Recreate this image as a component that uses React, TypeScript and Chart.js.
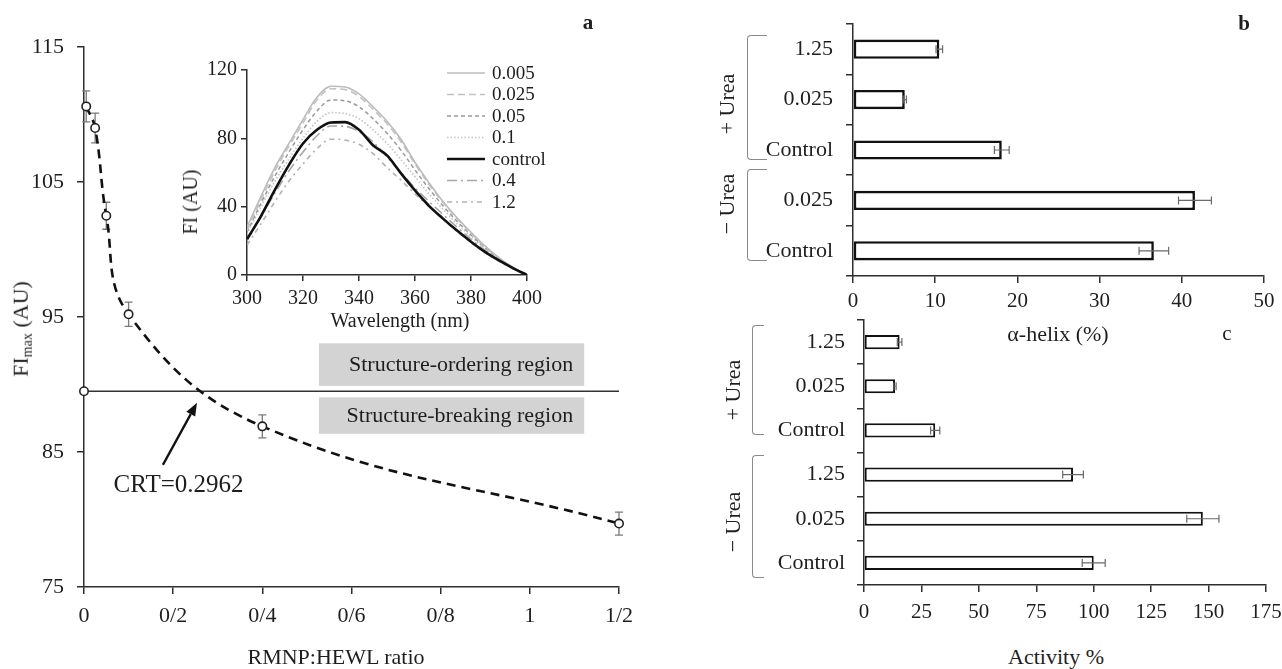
import React, { useEffect, useRef } from "react";
import { Chart, registerables } from "chart.js";

Chart.register(...registerables);

const SERIF = '"Liberation Serif", "Times New Roman", Times, serif';
const TXT = "#1e1e1e";
const AXIS = "#2e2e2e";

// ---------------- Panel a : FImax vs RMNP:HEWL ratio ----------------
const ratioTickValues = [0, 0.2, 0.4, 0.6, 0.8, 1, 1.2];
const ratioTickLabels = ["0", "0/2", "0/4", "0/6", "0/8", "1", "1/2"];
const fiTickValues = [75, 85, 95, 105, 115];
const ratios = [0.005, 0.025, 0.05, 0.1, 0.4, 1.2];
const fiMax = [110.6, 109.0, 102.5, 95.2, 86.9, 79.7];
const fiMaxErr = [1.15, 1.1, 1.0, 0.9, 0.85, 0.85];
const controlRatio = 0;
const controlFi = 89.5;
const crtText = "CRT=0.2962";
const regionTexts = ["Structure-ordering region", "Structure-breaking region"];

// ---------------- Inset : emission spectra ----------------
const wavelengths = [300, 305, 310, 315, 320, 325, 330, 335, 340, 345, 350, 355, 360, 365, 370, 375, 380, 385, 390, 395, 400];
const wlTickValues = [300, 320, 340, 360, 380, 400];
const fiTickInset = [0, 40, 80, 120];
const spectraNames = ["0.005", "0.025", "0.05", "0.1", "control", "0.4", "1.2"];
const spec0005 = [28, 46, 63, 77, 91, 104, 110.5, 110, 106, 98.5, 90, 79.5, 66, 54, 43, 33.5, 25, 17, 10, 4.5, 0];
const spec0025 = [26, 44, 61, 75.5, 89, 102.5, 109, 108.5, 104.5, 97, 88.5, 78, 65, 53, 42.5, 33, 24.5, 16.5, 10, 4.5, 0];
const spec005 = [25, 42, 58, 72, 85, 96, 102.5, 102, 98.5, 91.5, 83, 73, 61.5, 50.5, 40.5, 31.5, 23.5, 16, 9.5, 4, 0];
const spec01 = [24, 40, 55, 68, 80, 90, 95, 94.5, 91.5, 85, 77, 67.5, 57.5, 47.5, 38.5, 30, 22.5, 15.5, 9, 4, 0];
const specControl = [21, 34.5, 50, 64.5, 77, 85, 89.3, 89.5, 85, 76, 70, 59.5, 49.5, 40.5, 33, 26, 19.5, 13.5, 8.5, 4, 0];
const spec04 = [20, 34, 48, 61, 72, 81.5, 87.2, 87, 84, 78, 69, 60, 51, 43, 35.5, 28, 21, 14.5, 8.5, 4, 0];
const spec12 = [17.5, 30, 43, 55, 65, 74, 79.5, 79, 76.5, 71, 63, 55.5, 47.5, 40, 32.5, 25.5, 19, 13, 8, 3.5, 0];
const spectraSeries = [spec0005, spec0025, spec005, spec01, specControl, spec04, spec12];

// ---------------- Panel b : alpha-helix ----------------
const helixLabels = ["1.25", "0.025", "Control", "0.025", "Control"];
const helixValues = [10.5, 6.3, 18.1, 41.6, 36.6];
const helixErr = [0.4, 0.2, 0.9, 2.0, 1.8];

// ---------------- Panel c : activity ----------------
const activityLabels = ["1.25", "0.025", "Control", "1.25", "0.025", "Control"];
const activityValues = [15.5, 13.5, 31, 91, 147.5, 100];
const activityErr = [1, 0.5, 2, 4.5, 7, 5];

// ---------------- styles / annotation placement ----------------
const spectraStyles = [
  { color: "#bcbcbc", width: 1.6, dash: [] as number[] },
  { color: "#c2c2c2", width: 1.6, dash: [7, 4] },
  { color: "#9a9a9a", width: 1.5, dash: [4, 3] },
  { color: "#c6c6c6", width: 1.7, dash: [1.5, 2] },
  { color: "#111111", width: 2.6, dash: [] as number[] },
  { color: "#a6a6a6", width: 1.6, dash: [10, 4, 2, 4] },
  { color: "#b2b2b2", width: 1.6, dash: [5, 4, 2, 4] },
];
const REGION_BOXES = [
  { x0: 0.527, x1: 1.122, y0: 89.9, y1: 93.05 },
  { x0: 0.527, x1: 1.122, y0: 86.35, y1: 89.05 },
];
const CRT_ARROW = { x0: 0.177, y0: 84.05, x1: 0.2535, y1: 88.65 };
const CRT_TEXT_AT = { x: 0.212, y: 82.5 };

type Area = { l: number; t: number; r: number; b: number };
type Frame = { area: Area; axisW: number; axisH: number; padT: number; padR: number };

const FRAME_A: Frame = { area: { l: 84, t: 47, r: 619, b: 587 }, axisW: 84, axisH: 60, padT: 18, padR: 30 };
const FRAME_IN: Frame = { area: { l: 247, t: 70, r: 527, b: 275 }, axisW: 60, axisH: 40, padT: 16, padR: 40 };
const FRAME_B: Frame = { area: { l: 853, t: 24, r: 1264, b: 276 }, axisW: 140, axisH: 44, padT: 16, padR: 18 };
const FRAME_C: Frame = { area: { l: 864, t: 320, r: 1266, b: 585 }, axisW: 140, axisH: 44, padT: 14, padR: 16 };

function axisGrid(tickLength: number, offset = false) {
  return {
    display: true,
    drawOnChartArea: false,
    drawTicks: true,
    tickLength,
    color: AXIS,
    lineWidth: 1.5,
    offset,
  };
}
const axisBorder = { display: true, color: AXIS, width: 1.5 };

function errorBars(idx: number, errs: number[], horizontal: boolean, color: string, cap: number, lw: number, before: boolean) {
  const draw = (chart: any) => {
    const meta = chart.getDatasetMeta(idx);
    const raw = chart.data.datasets[idx].data;
    const ctx = chart.ctx;
    ctx.save();
    ctx.strokeStyle = color;
    ctx.lineWidth = lw;
    meta.data.forEach((el: any, i: number) => {
      const e = errs[i];
      if (e == null) return;
      ctx.beginPath();
      if (horizontal) {
        const v = raw[i] as number;
        const a = chart.scales.x.getPixelForValue(v - e);
        const b = chart.scales.x.getPixelForValue(v + e);
        const y = el.y;
        ctx.moveTo(a, y); ctx.lineTo(b, y);
        ctx.moveTo(a, y - cap); ctx.lineTo(a, y + cap);
        ctx.moveTo(b, y - cap); ctx.lineTo(b, y + cap);
      } else {
        const v = raw[i].y as number;
        const a = chart.scales.y.getPixelForValue(v - e);
        const b = chart.scales.y.getPixelForValue(v + e);
        const x = el.x;
        ctx.moveTo(x, a); ctx.lineTo(x, b);
        ctx.moveTo(x - cap, a); ctx.lineTo(x + cap, a);
        ctx.moveTo(x - cap, b); ctx.lineTo(x + cap, b);
      }
      ctx.stroke();
    });
    ctx.restore();
  };
  return {
    id: "errbars" + idx,
    beforeDatasetsDraw(chart: any) { if (before) draw(chart); },
    afterDatasetsDraw(chart: any) { if (!before) draw(chart); },
  };
}

const regionPlugin = {
  id: "regions",
  beforeDatasetsDraw(chart: any) {
    const { ctx } = chart;
    const x = chart.scales.x, y = chart.scales.y;
    ctx.save();
    REGION_BOXES.forEach((b, i) => {
      const l = x.getPixelForValue(b.x0), r = x.getPixelForValue(b.x1);
      const t = y.getPixelForValue(b.y1), bt = y.getPixelForValue(b.y0);
      ctx.fillStyle = "#d3d3d3";
      ctx.fillRect(l, t, r - l, bt - t);
      ctx.fillStyle = TXT;
      ctx.font = `22px ${SERIF}`;
      ctx.textAlign = "right";
      ctx.textBaseline = "middle";
      ctx.fillText(regionTexts[i], r - 11, (t + bt) / 2 + 1);
    });
    ctx.restore();
  },
  afterDatasetsDraw(chart: any) {
    const { ctx } = chart;
    const x = chart.scales.x, y = chart.scales.y;
    const x0 = x.getPixelForValue(CRT_ARROW.x0), y0 = y.getPixelForValue(CRT_ARROW.y0);
    const x1 = x.getPixelForValue(CRT_ARROW.x1), y1 = y.getPixelForValue(CRT_ARROW.y1);
    const ang = Math.atan2(y1 - y0, x1 - x0);
    const hl = 13, hw = 5;
    const c = Math.cos(ang), s = Math.sin(ang);
    const bx = x1 - hl * c, by = y1 - hl * s;
    ctx.save();
    ctx.strokeStyle = "#111";
    ctx.fillStyle = "#111";
    ctx.lineWidth = 2.3;
    ctx.beginPath();
    ctx.moveTo(x0, y0);
    ctx.lineTo(bx, by);
    ctx.stroke();
    ctx.beginPath();
    ctx.moveTo(x1, y1);
    ctx.lineTo(bx + hw * s, by - hw * c);
    ctx.lineTo(bx - hw * s, by + hw * c);
    ctx.closePath();
    ctx.fill();
    ctx.fillStyle = TXT;
    ctx.font = `25px ${SERIF}`;
    ctx.textAlign = "center";
    ctx.textBaseline = "middle";
    ctx.fillText(crtText, x.getPixelForValue(CRT_TEXT_AT.x), y.getPixelForValue(CRT_TEXT_AT.y));
    ctx.restore();
  },
};

const insetLegend = {
  id: "insetLegend",
  afterDatasetsDraw(chart: any) {
    const { ctx, chartArea } = chart;
    const lx0 = chartArea.left + 200, lx1 = chartArea.left + 238, tx = chartArea.left + 245;
    chart.data.datasets.forEach((ds: any, i: number) => {
      const yy = chartArea.top + 3 + i * 21.5;
      ctx.save();
      ctx.strokeStyle = ds.borderColor;
      ctx.lineWidth = ds.borderWidth;
      ctx.setLineDash(ds.borderDash || []);
      ctx.beginPath();
      ctx.moveTo(lx0, yy);
      ctx.lineTo(lx1, yy);
      ctx.stroke();
      ctx.setLineDash([]);
      ctx.fillStyle = TXT;
      ctx.font = `19px ${SERIF}`;
      ctx.textAlign = "left";
      ctx.textBaseline = "middle";
      ctx.fillText(ds.label, tx, yy + 1);
      ctx.restore();
    });
  },
};

const makeA = () => ({
  type: "scatter",
  data: {
    datasets: [
      {
        data: ratios.map((x, i) => ({ x, y: fiMax[i] })),
        showLine: true,
        borderColor: "#111",
        borderWidth: 2.6,
        borderDash: [9, 6],
        tension: 0.4,
        pointRadius: 4.2,
        pointBackgroundColor: "#fff",
        pointBorderColor: "#222",
        pointBorderWidth: 1.6,
        clip: false,
      },
      {
        data: [
          { x: controlRatio, y: controlFi },
          { x: ratioTickValues[ratioTickValues.length - 1], y: controlFi },
        ],
        showLine: true,
        borderColor: "#333",
        borderWidth: 1.6,
        pointRadius: [4.2, 0],
        pointBackgroundColor: "#fff",
        pointBorderColor: "#222",
        pointBorderWidth: 1.6,
        clip: false,
      },
    ],
  },
  options: {
    scales: {
      x: {
        type: "linear",
        min: 0,
        max: 1.2,
        afterBuildTicks: (s: any) => { s.ticks = ratioTickValues.map((v) => ({ value: v })); },
        ticks: {
          callback: (_v: any, i: number) => ratioTickLabels[i],
          font: { family: SERIF, size: 22 },
          color: TXT,
          padding: 9,
          maxRotation: 0,
          autoSkip: false,
        },
        grid: axisGrid(7),
        border: axisBorder,
      },
      y: {
        type: "linear",
        min: 75,
        max: 115,
        afterBuildTicks: (s: any) => { s.ticks = fiTickValues.map((v) => ({ value: v })); },
        ticks: { font: { family: SERIF, size: 22 }, color: TXT, padding: 13 },
        grid: axisGrid(7),
        border: axisBorder,
      },
    },
  },
  plugins: [errorBars(0, fiMaxErr, false, "#7a7a7a", 4, 1.3, true), regionPlugin],
});

const makeInset = () => ({
  type: "line",
  data: {
    datasets: spectraSeries.map((series, k) => ({
      label: spectraNames[k],
      data: wavelengths.map((w, i) => ({ x: w, y: series[i] })),
      borderColor: spectraStyles[k].color,
      borderWidth: spectraStyles[k].width,
      borderDash: spectraStyles[k].dash,
      pointRadius: 0,
      cubicInterpolationMode: "monotone",
      fill: false,
      order: spectraNames[k] === "control" ? 0 : 1,
    })),
  },
  options: {
    scales: {
      x: {
        type: "linear",
        min: 300,
        max: 400,
        afterBuildTicks: (s: any) => { s.ticks = wlTickValues.map((v) => ({ value: v })); },
        ticks: { font: { family: SERIF, size: 20 }, color: TXT, padding: 6, maxRotation: 0, autoSkip: false },
        grid: axisGrid(6),
        border: axisBorder,
      },
      y: {
        type: "linear",
        min: 0,
        max: 120,
        afterBuildTicks: (s: any) => { s.ticks = fiTickInset.map((v) => ({ value: v })); },
        ticks: { font: { family: SERIF, size: 20 }, color: TXT, padding: 4 },
        grid: axisGrid(6),
        border: axisBorder,
      },
    },
  },
  plugins: [insetLegend],
});

function makeBars(labels: string[], values: number[], errs: number[], max: number, step: number, pct: number, bw: number, xPad: number, yPad: number) {
  return () => ({
    type: "bar",
    data: {
      labels,
      datasets: [
        {
          data: values,
          backgroundColor: "#ffffff",
          borderColor: "#111111",
          borderWidth: bw,
          borderSkipped: false,
          barPercentage: pct,
          categoryPercentage: 1,
        },
      ],
    },
    options: {
      indexAxis: "y",
      scales: {
        x: {
          type: "linear",
          min: 0,
          max,
          ticks: { stepSize: step, font: { family: SERIF, size: 21 }, color: TXT, padding: xPad, maxRotation: 0, autoSkip: false },
          grid: axisGrid(7),
          border: axisBorder,
        },
        y: {
          type: "category",
          offset: true,
          ticks: { font: { family: SERIF, size: 22 }, color: TXT, padding: yPad, autoSkip: false },
          grid: axisGrid(7, true),
          border: axisBorder,
        },
      },
    },
    plugins: [errorBars(0, errs, true, "#6a6a6a", 4, 1.2, false)],
  });
}

function ChartCanvas({ frame, make, z }: { frame: Frame; make: () => any; z: number }) {
  const ref = useRef<HTMLCanvasElement | null>(null);
  const { area, axisW, axisH, padT, padR } = frame;
  const w = area.r - area.l + axisW + padR;
  const h = area.b - area.t + padT + axisH;
  useEffect(() => {
    if (!ref.current) return;
    const cfg = make();
    cfg.options = cfg.options || {};
    cfg.options.animation = false;
    cfg.options.responsive = false;
    cfg.options.maintainAspectRatio = false;
    cfg.options.layout = { padding: { left: 0, top: padT, right: padR, bottom: 0 } };
    cfg.options.plugins = { legend: { display: false }, tooltip: { enabled: false } };
    const sx = cfg.options.scales.x;
    const sy = cfg.options.scales.y;
    sx.afterFit = (s: any) => {
      s.height = axisH;
      s.paddingLeft = 0; s.paddingRight = 0; s.paddingTop = 0; s.paddingBottom = 0;
    };
    sy.afterFit = (s: any) => {
      s.width = axisW;
      s.paddingLeft = 0; s.paddingRight = 0; s.paddingTop = 0; s.paddingBottom = 0;
    };
    const chart = new Chart(ref.current, cfg);
    return () => chart.destroy();
  }, []);
  return (
    <canvas
      ref={ref}
      width={w}
      height={h}
      style={{ position: "absolute", left: area.l - axisW, top: area.t - padT, width: w, height: h, zIndex: z }}
    />
  );
}

function Txt({ x, y, size = 22, rot = false, bold = false, children }: { x: number; y: number; size?: number; rot?: boolean; bold?: boolean; children: any }) {
  return (
    <div
      style={{
        position: "absolute",
        left: x,
        top: y,
        transform: `translate(-50%, -50%)${rot ? " rotate(-90deg)" : ""}`,
        fontFamily: SERIF,
        fontSize: size,
        fontWeight: bold ? 700 : 400,
        color: TXT,
        whiteSpace: "nowrap",
        lineHeight: 1,
        zIndex: 10,
      }}
    >
      {children}
    </div>
  );
}

function Bracket({ x, top, bottom, w }: { x: number; top: number; bottom: number; w: number }) {
  return (
    <div
      style={{
        position: "absolute",
        left: x,
        top,
        width: w,
        height: bottom - top,
        boxSizing: "border-box",
        borderLeft: "1.6px solid #8a8a8a",
        borderTop: "1.6px solid #8a8a8a",
        borderBottom: "1.6px solid #8a8a8a",
        borderTopLeftRadius: 4,
        borderBottomLeftRadius: 4,
        zIndex: 10,
      }}
    />
  );
}

export default function App() {
  return (
    <div style={{ position: "absolute", left: 0, top: 0, width: 1282, height: 669, background: "#fff", overflow: "hidden" }}>
      <ChartCanvas frame={FRAME_A} make={makeA} z={1} />
      <ChartCanvas frame={FRAME_IN} make={makeInset} z={2} />
      <ChartCanvas
        frame={FRAME_B}
        make={makeBars(helixLabels, helixValues, helixErr, 50, 10, 0.38, 2.6, 6, 13)}
        z={1}
      />
      <ChartCanvas
        frame={FRAME_C}
        make={makeBars(activityLabels, activityValues, activityErr, 175, 25, 0.32, 2, 8, 12)}
        z={2}
      />

      <Txt x={588} y={22} size={21} bold>a</Txt>
      <Txt x={1244} y={23} size={21} bold>b</Txt>
      <Txt x={1227} y={333} size={21}>c</Txt>

      <Txt x={22} y={329} rot>
        <span>
          FI<sub style={{ fontSize: 14, verticalAlign: "-0.25em" }}>max</sub> (AU)
        </span>
      </Txt>
      <Txt x={336} y={657}>RMNP:HEWL ratio</Txt>
      <Txt x={190} y={202} size={20} rot>FI (AU)</Txt>
      <Txt x={400} y={320} size={20}>Wavelength (nm)</Txt>

      <Txt x={1058} y={334}>α-helix (%)</Txt>
      <Txt x={1056} y={657}>Activity %</Txt>

      <Bracket x={747} top={35} bottom={160} w={20} />
      <Bracket x={747} top={169} bottom={261} w={20} />
      <Txt x={727} y={104} rot>+ Urea</Txt>
      <Txt x={727} y={204} rot>− Urea</Txt>

      <Bracket x={752} top={325} bottom={435} w={12} />
      <Bracket x={752} top={455} bottom={578} w={12} />
      <Txt x={733} y={390} rot>+ Urea</Txt>
      <Txt x={733} y={522} rot>− Urea</Txt>
    </div>
  );
}
